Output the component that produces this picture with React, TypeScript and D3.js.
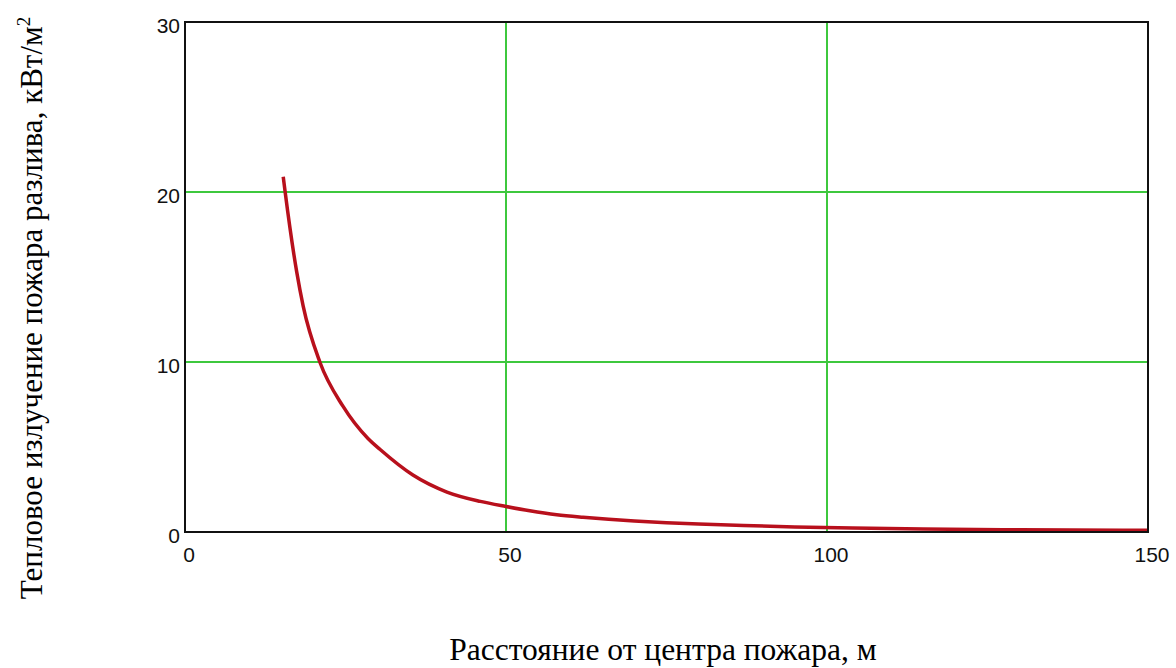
import React from 'react'
import * as d3 from 'd3'

// distance from fire centre, m
const distance: number[] = [15.3, 15.6, 17.4, 18.4, 21.0, 24.6, 28.5, 30.4, 35.5, 40.8, 46.0, 50.0, 53.7, 57.9, 62.0, 66.0, 70.0, 75.0, 80.0, 87.0, 95.0, 104.0, 115.0, 130.0, 150.0]
// heat flux, kW/m2
const heatFlux: number[] = [20.9, 20.0, 15.3, 13.3, 10.0, 7.4, 5.5, 4.85, 3.35, 2.35, 1.8, 1.5, 1.25, 1.02, 0.87, 0.75, 0.65, 0.55, 0.47, 0.38, 0.3, 0.23, 0.17, 0.13, 0.1]
const xTicks: number[] = [0, 50, 100, 150]
const yTicks: number[] = [0, 10, 20, 30]
const xGrid: number[] = [50, 100]
const yGrid: number[] = [10, 20]

const W = 1176
const H = 668
const plot = { left: 185, right: 1148, top: 22, bottom: 532 }

export default function App() {
  const x = d3.scaleLinear().domain([0, 150]).range([plot.left, plot.right])
  const y = d3.scaleLinear().domain([0, 30]).range([plot.bottom, plot.top])

  const pts: [number, number][] = distance.map((d, i) => [d, heatFlux[i]])
  const line = d3.line<[number, number]>()
    .x(d => x(d[0]))
    .y(d => y(d[1]))
    .curve(d3.curveMonotoneX)

  const tickFont = '"Liberation Sans", Arial, sans-serif'
  const titleFont = '"Liberation Serif", "Times New Roman", serif'

  return (
    <svg width={W} height={H} style={{ position: 'absolute', left: 0, top: 0, background: '#fff' }}>
      {/* grid */}
      {xGrid.map(t => (
        <line key={'gx' + t} x1={x(t)} x2={x(t)} y1={plot.top} y2={plot.bottom} stroke="#3ec83e" strokeWidth={2} />
      ))}
      {yGrid.map(t => (
        <line key={'gy' + t} x1={plot.left} x2={plot.right} y1={y(t)} y2={y(t)} stroke="#3ec83e" strokeWidth={2} />
      ))}

      {/* curve */}
      <path d={line(pts) ?? ''} fill="none" stroke="#b8101c" strokeWidth={3.5} />

      {/* frame */}
      <rect x={plot.left} y={plot.top} width={plot.right - plot.left} height={plot.bottom - plot.top}
        fill="none" stroke="#111" strokeWidth={2} />

      {/* tick labels */}
      {yTicks.map(t => (
        <text key={'ty' + t} x={plot.left - 5} y={y(t) + 4} dy="0.35em" textAnchor="end"
          fontFamily={tickFont} fontSize={21} fill="#111">{t}</text>
      ))}
      {xTicks.map(t => (
        <text key={'tx' + t} x={x(t) + 4} y={562} textAnchor="middle"
          fontFamily={tickFont} fontSize={21} fill="#111">{t}</text>
      ))}

      {/* axis titles */}
      <text x={663} y={660} textAnchor="middle" fontFamily={titleFont} fontSize={31.5} fill="#000">
        Расстояние от центра пожара, м
      </text>
      <text transform={`translate(42, 308) rotate(-90)`} textAnchor="middle" fontFamily={titleFont} fontSize={31} fill="#000">
        Тепловое излучение пожара разлива, кВт/м<tspan fontSize={19} dy={-12}>2</tspan>
      </text>
    </svg>
  )
}
